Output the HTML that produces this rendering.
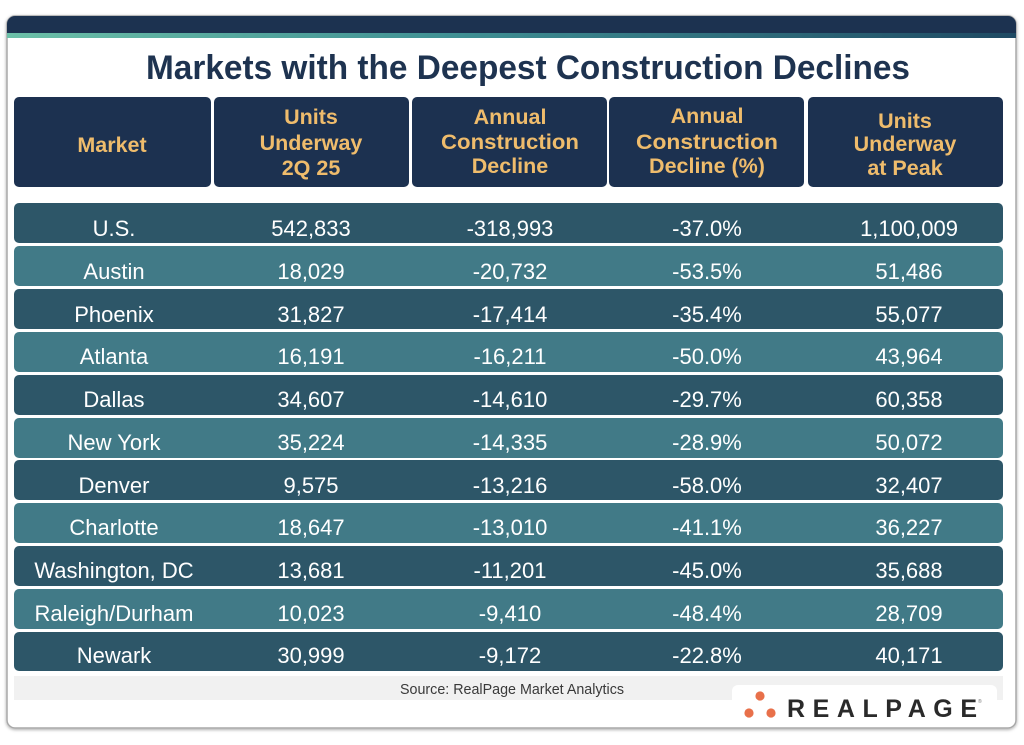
<!DOCTYPE html>
<html><head><meta charset="utf-8"><style>
html,body{margin:0;padding:0;background:#fff;}
svg{display:block;}
text{font-family:"Liberation Sans",Arial,sans-serif;}
</style></head><body>
<svg width="1024" height="745" viewBox="0 0 1024 745" xmlns="http://www.w3.org/2000/svg">
<defs>
<linearGradient id="strip" x1="0" x2="1" y1="0" y2="0">
<stop offset="0" stop-color="#6cc0a8"/>
<stop offset="0.45" stop-color="#3f8f93"/>
<stop offset="1" stop-color="#1f4a63"/>
</linearGradient>
<filter id="sh" x="-5%" y="-5%" width="110%" height="110%">
<feDropShadow dx="0" dy="1" stdDeviation="1.5" flood-color="#000" flood-opacity="0.35"/>
</filter>
<clipPath id="cc"><rect x="7" y="16" width="1009" height="712" rx="8"/></clipPath>
</defs>
<rect x="7" y="16" width="1009" height="712" rx="8" fill="#fff" stroke="#a8a8a8" stroke-width="1.5" filter="url(#sh)"/>
<g clip-path="url(#cc)">
<rect x="7" y="16" width="1009" height="18" fill="#1c3250"/>
<rect x="7" y="33" width="1009" height="5" fill="url(#strip)"/>
</g>
<text x="528" y="79" font-size="34" font-weight="bold" fill="#1e3350" text-anchor="middle" textLength="764" lengthAdjust="spacingAndGlyphs">Markets with the Deepest Construction Declines</text>

<g fill="#1c3150">
<rect x="14" y="97" width="197" height="90" rx="5"/>
<rect x="214" y="97" width="195" height="90" rx="5"/>
<rect x="412" y="97" width="195" height="90" rx="5"/>
<rect x="609" y="97" width="195" height="90" rx="5"/>
<rect x="808" y="97" width="195" height="90" rx="5"/>
</g>
<g fill="#efbc6c" font-size="21.5" font-weight="bold" text-anchor="middle">
<text x="112" y="152">Market</text>
<text x="311" y="124">Units</text>
<text x="311" y="150">Underway</text>
<text x="311" y="175">2Q 25</text>
<text x="510" y="124">Annual</text>
<text x="510" y="149" textLength="138" lengthAdjust="spacingAndGlyphs">Construction</text>
<text x="510" y="173">Decline</text>
<text x="707" y="123">Annual</text>
<text x="707" y="149" textLength="142" lengthAdjust="spacingAndGlyphs">Construction</text>
<text x="707" y="173">Decline (%)</text>
<text x="905" y="128">Units</text>
<text x="905" y="151">Underway</text>
<text x="905" y="175">at Peak</text>
</g>

<g>
<rect x="14" y="203" width="989" height="40" rx="5" fill="#2d5668"/>
<rect x="14" y="246" width="989" height="40" rx="5" fill="#417a87"/>
<rect x="14" y="289" width="989" height="40" rx="5" fill="#2d5668"/>
<rect x="14" y="332" width="989" height="40" rx="5" fill="#417a87"/>
<rect x="14" y="375" width="989" height="40" rx="5" fill="#2d5668"/>
<rect x="14" y="418" width="989" height="40" rx="5" fill="#417a87"/>
<rect x="14" y="460" width="989" height="40" rx="5" fill="#2d5668"/>
<rect x="14" y="503" width="989" height="40" rx="5" fill="#417a87"/>
<rect x="14" y="546" width="989" height="40" rx="5" fill="#2d5668"/>
<rect x="14" y="589" width="989" height="40" rx="5" fill="#417a87"/>
<rect x="14" y="632" width="989" height="39" rx="5" fill="#2d5668"/>
</g>
<g fill="#ffffff" font-size="22" text-anchor="middle">
<g transform="translate(0,236)">
<text x="114" y="0">U.S.</text><text x="311" y="0">542,833</text><text x="510" y="0">-318,993</text><text x="707" y="0">-37.0%</text><text x="909" y="0">1,100,009</text>
</g>
<g transform="translate(0,279)">
<text x="114" y="0">Austin</text><text x="311" y="0">18,029</text><text x="510" y="0">-20,732</text><text x="707" y="0">-53.5%</text><text x="909" y="0">51,486</text>
</g>
<g transform="translate(0,322)">
<text x="114" y="0">Phoenix</text><text x="311" y="0">31,827</text><text x="510" y="0">-17,414</text><text x="707" y="0">-35.4%</text><text x="909" y="0">55,077</text>
</g>
<g transform="translate(0,364)">
<text x="114" y="0">Atlanta</text><text x="311" y="0">16,191</text><text x="510" y="0">-16,211</text><text x="707" y="0">-50.0%</text><text x="909" y="0">43,964</text>
</g>
<g transform="translate(0,407)">
<text x="114" y="0">Dallas</text><text x="311" y="0">34,607</text><text x="510" y="0">-14,610</text><text x="707" y="0">-29.7%</text><text x="909" y="0">60,358</text>
</g>
<g transform="translate(0,450)">
<text x="114" y="0">New York</text><text x="311" y="0">35,224</text><text x="510" y="0">-14,335</text><text x="707" y="0">-28.9%</text><text x="909" y="0">50,072</text>
</g>
<g transform="translate(0,493)">
<text x="114" y="0">Denver</text><text x="311" y="0">9,575</text><text x="510" y="0">-13,216</text><text x="707" y="0">-58.0%</text><text x="909" y="0">32,407</text>
</g>
<g transform="translate(0,535)">
<text x="114" y="0">Charlotte</text><text x="311" y="0">18,647</text><text x="510" y="0">-13,010</text><text x="707" y="0">-41.1%</text><text x="909" y="0">36,227</text>
</g>
<g transform="translate(0,578)">
<text x="114" y="0">Washington, DC</text><text x="311" y="0">13,681</text><text x="510" y="0">-11,201</text><text x="707" y="0">-45.0%</text><text x="909" y="0">35,688</text>
</g>
<g transform="translate(0,621)">
<text x="114" y="0">Raleigh/Durham</text><text x="311" y="0">10,023</text><text x="510" y="0">-9,410</text><text x="707" y="0">-48.4%</text><text x="909" y="0">28,709</text>
</g>
<g transform="translate(0,663)">
<text x="114" y="0">Newark</text><text x="311" y="0">30,999</text><text x="510" y="0">-9,172</text><text x="707" y="0">-22.8%</text><text x="909" y="0">40,171</text>
</g>
</g>

<rect x="14" y="676" width="989" height="24" fill="#f1f1f1"/>
<text x="512" y="694" font-size="14.5" fill="#3a3a3a" text-anchor="middle" textLength="224" lengthAdjust="spacingAndGlyphs">Source: RealPage Market Analytics</text>

<rect x="732" y="685" width="265" height="42" rx="6" fill="#ffffff"/>
<g fill="#e8704a">
<circle cx="760" cy="696" r="4.6"/>
<circle cx="749" cy="713" r="4.6"/>
<circle cx="771" cy="713" r="4.6"/>
</g>
<text x="787" y="717" font-size="25" font-weight="bold" fill="#2a2a2a" textLength="190" lengthAdjust="spacing">REALPAGE</text>
<text x="978" y="703" font-size="5" fill="#777">®</text>
</svg>
</body></html>
